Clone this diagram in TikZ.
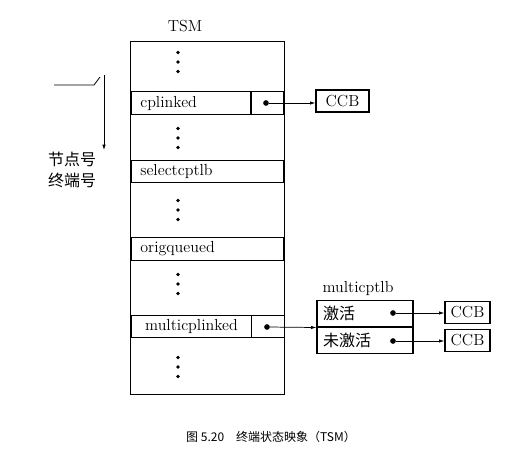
\documentclass[tikz,border=0pt]{standalone}
\usepackage{fontspec}
\newfontfamily\cjk{Noto Sans CJK SC}
\usetikzlibrary{arrows.meta,positioning,calc}

\begin{document}
\begin{tikzpicture}[
            x=0.75pt, y=-0.75pt,
            frame/.style={draw, line width=1pt, minimum width=115.5pt, minimum height=264.75pt, inner sep=0pt},
            field/.style={draw, line width=1pt, minimum height=16.8pt, inner xsep=7pt, inner ysep=0pt, align=left, font=\large},
            ptr/.style={draw, line width=1pt, minimum width=24.5pt, minimum height=16.8pt, inner sep=0pt},
            ccb/.style={draw, line width=1pt, minimum height=16.5pt, inner sep=0pt, font=\large},
            slot/.style={draw, line width=1pt, minimum width=72pt, minimum height=20pt, inner xsep=4.5pt, inner ysep=0pt, text width=63pt, align=left, font=\large\cjk},
            pt/.style={circle, fill=black, inner sep=1.5pt},
            link/.style={line width=0.55pt, -{Latex[length=4pt,width=2.6pt]}},
            lab/.style={draw=none, fill=none, font=\large}
        ]
            \useasboundingbox (0,0) rectangle (529,450);

% --- TSM table ---
            \node[frame] (tsm) at (207.5,218) {};
            \node[lab] (tsmname) at (185,26) {TSM};

            \node[field, text width=76pt] (cplinked) at (191,103) {cplinked};
            \node[ptr] (cpptr) at (267.5,103) {};
            \node[field, text width=100.75pt] (selectcptlb) at (207.5,171.5) {selectcptlb};
            \node[field, text width=100.75pt] (origqueued) at (207.5,249) {origqueued};
            \node[field, text width=76pt, align=center] (multicplinked) at (191.5,326.5) {multicplinked};
            \node[ptr] (mcpptr) at (268,326.5) {};

% --- vertical dots ---
            \foreach \y in {62,138,210,284,367}
                \foreach \d in {-9.5,0,9.5}
                    \fill (178,\y+\d) circle (1.8);

% --- multicptlb ---
            \node[lab] (mptlbname) at (358,288) {multicptlb};
            \node[slot] (act) at (365,313.5) {激活};
            \node[slot] (inact) at (365,340) {未激活};

% --- CCB boxes ---
            \node[ccb, minimum width=39.75pt] (ccb1) at (342.5,101) {CCB};
            \node[ccb, minimum width=33.75pt] (ccb2) at (467.5,312.5) {CCB};
            \node[ccb, minimum width=33.75pt] (ccb3) at (467.5,340.5) {CCB};

% --- pointers ---
            \node[pt] (d1) at (266,103) {};
            \node[pt] (d2) at (267,327) {};
            \node[pt] (d3) at (393,313) {};
            \node[pt] (d4) at (393,341) {};

            \draw[link] (d1) -- (d1 -| ccb1.west);
            \draw[link] (d2) -- (act.south west);
            \draw[link] (d3) -- (d3 -| ccb2.west);
            \draw[link] (d4) -- (d4 -| ccb3.west);

% --- index selector ---
            \coordinate (s1) at (54,85);
            \coordinate (s2) at (94,85);
            \coordinate (s3) at (100,77);
            \coordinate (s4) at (104,75);
            \coordinate (s5) at (104,150);
            \draw[line width=0.6pt] (s1) -- (s2) -- (s3);
            \draw[link] (s4) -- (s5);
            \node[lab, font=\large\cjk] (nodeno) at (72,159) {节点号};
            \node[lab, font=\large\cjk] (termno) at (72,180) {终端号};

% --- caption ---
            \node[lab, font=\small\cjk] (caption) at (271,437) {图\ 5.20\quad 终端状态映象（TSM）};

        \end{tikzpicture}
\end{document}
